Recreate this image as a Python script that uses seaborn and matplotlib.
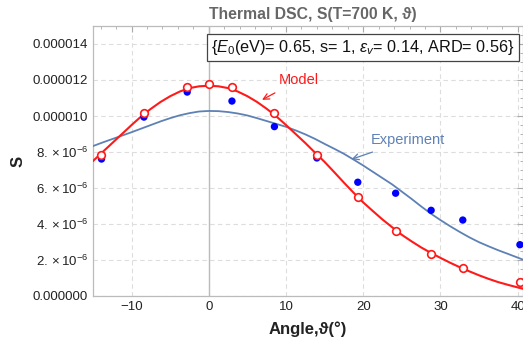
import numpy as np
import pandas as pd
import matplotlib
matplotlib.use("Agg")
import matplotlib.pyplot as plt
import seaborn as sns
from matplotlib.ticker import MultipleLocator

# ---- data (values in units of 1e-6) ----
angles_pts = [-13.9, -8.4, -2.8, 3.0, 8.5, 14.0, 19.3, 24.2, 28.8, 32.9, 40.3]
exp_pts = [7.61, 9.94, 11.33, 10.83, 9.41, 7.67, 6.32, 5.71, 4.76, 4.22, 2.85]
model_angles = [-13.9, -8.4, -2.8, 0.0, 3.0, 8.5, 14.0, 19.3, 24.2, 28.8, 32.9, 40.3]
model_pts = [7.85, 10.15, 11.59, 11.78, 11.59, 10.15, 7.85, 5.5, 3.61, 2.35, 1.56, 0.79]

curve_x = [-15, -13.75, -12.5, -11.25, -10, -8.75, -7.5, -6.25, -5, -3.75, -2.5, -1.25, 0,
           1.25, 2.5, 3.75, 5, 6.25, 7.5, 8.75, 10, 11.25, 12.5, 13.75, 15, 16.25, 17.5,
           18.75, 20, 21.25, 22.5, 23.75, 25, 26.25, 27.5, 28.75, 30, 31.25, 32.5, 33.75,
           35, 36.25, 37.5, 38.75, 40.7]
model_curve = [7.5, 8.0, 8.5, 9.0, 9.5, 9.98, 10.4, 10.78, 11.1, 11.36, 11.55, 11.65, 11.68,
               11.65, 11.55, 11.36, 11.1, 10.78, 10.4, 9.98, 9.5, 9.0, 8.5, 7.97, 7.45, 6.88, 6.3,
               5.74, 5.2, 4.72, 4.25, 3.82, 3.4, 3.04, 2.7, 2.4, 2.12, 1.85, 1.6, 1.37,
               1.15, 0.95, 0.77, 0.62, 0.4]
exp_curve = [8.33, 8.53, 8.72, 8.91, 9.1, 9.3, 9.5, 9.7, 9.88, 10.04, 10.16, 10.25, 10.28,
             10.27, 10.22, 10.14, 10.03, 9.88, 9.72, 9.56, 9.4, 9.2, 8.98, 8.73, 8.45, 8.18, 7.9,
             7.58, 7.25, 6.9, 6.55, 6.2, 5.8, 5.4, 4.98, 4.58, 4.22, 3.88, 3.56, 3.26,
             2.99, 2.76, 2.54, 2.34, 2.02]

ytick_vals = [0, 2, 4, 6, 8, 10, 12, 14]
ytick_labels = ["0.000000", r"$2.\times10^{-6}$", r"$4.\times10^{-6}$", r"$6.\times10^{-6}$",
                r"$8.\times10^{-6}$", "0.000010", "0.000012", "0.000014"]
xtick_vals = [-10, 0, 10, 20, 30, 40]

sns.set_theme(style="white")
plt.rcParams['font.family'] = ['Liberation Sans', 'DejaVu Sans']
plt.rcParams['mathtext.fontset'] = 'custom'
plt.rcParams['mathtext.rm'] = 'Liberation Sans'
plt.rcParams['mathtext.it'] = 'Liberation Sans:italic'
plt.rcParams['mathtext.bf'] = 'Liberation Sans:bold'

fig = plt.figure(figsize=(5.23, 3.41), dpi=100)
ax = fig.add_axes([93/523, 1-296/341, 1-93/523, (296-26)/341])

RED = "#FF1A1A"
BLUE_LINE = "#5E81B5"
BLUE_PT = "#0000FF"

df_mc = pd.DataFrame({"x": curve_x, "y": [v*1e-6 for v in model_curve]})
df_ec = pd.DataFrame({"x": curve_x, "y": [v*1e-6 for v in exp_curve]})
sns.lineplot(data=df_ec, x="x", y="y", ax=ax, color=BLUE_LINE, lw=1.3, zorder=3)
sns.lineplot(data=df_mc, x="x", y="y", ax=ax, color=RED, lw=1.5, zorder=3)

df_ep = pd.DataFrame({"x": angles_pts, "y": [v*1e-6 for v in exp_pts]})
df_mp = pd.DataFrame({"x": model_angles, "y": [v*1e-6 for v in model_pts]})
sns.scatterplot(data=df_ep, x="x", y="y", ax=ax, color=BLUE_PT, s=28, edgecolor="none", zorder=4)
ax.plot(df_mp["x"], df_mp["y"], 'o', mfc="white", mec=RED, mew=1.2, ms=5.5, zorder=5)

ax.set_xlim(-15, 40.7)
ax.set_ylim(0, 15e-6)
ax.axvline(0, color="#BBBBBB", lw=1.0, zorder=1)

ax.set_yticks([v*1e-6 for v in ytick_vals])
ax.set_yticklabels(ytick_labels)
ax.set_xticks(xtick_vals)
ax.set_xticklabels([("\u2212%d" % -v) if v < 0 else str(v) for v in xtick_vals])
ax.xaxis.set_minor_locator(MultipleLocator(2))
ax.yaxis.set_minor_locator(MultipleLocator(0.5e-6))
ax.tick_params(which='both', direction='in', top=True, right=True, colors="#AAAAAA",
               labelcolor="#222222", labelsize=9.5)
ax.tick_params(which='major', length=4, width=0.8)
ax.tick_params(which='minor', length=2, width=0.6)
ax.grid(True, which='major', ls=(0, (4, 3)), color="#DDDDDD", lw=0.8)
for s in ax.spines.values():
    s.set_color("#BBBBBB")
    s.set_linewidth(0.9)

ax.set_xlabel("Angle,\u03d1(\u00b0)", fontsize=12, fontweight="bold", color="#222222", labelpad=6)
ax.set_ylabel("S", fontsize=12, fontweight="bold", color="#222222")
ax.yaxis.set_label_coords((26-93)/430, 0.5)
fig.text(313/523, 1-14/341, "Thermal DSC, S(T=700 K, \u03d1)", ha="center", va="center",
         fontsize=11.3, fontweight="bold", color="#666666")

ax.annotate(r"{$E_0$(eV)= 0.65, s= 1, $\epsilon_v$= 0.14, ARD= 0.56}",
            xy=(363/523, 1-47.5/341), xycoords='figure fraction', ha="center", va="center",
            fontsize=11.7, color="#111111",
            bbox=dict(boxstyle="square,pad=0.25", fc="white", ec="#444444", lw=0.9), zorder=10)

ax.annotate("Model", xy=(6.9, 10.9e-6), xycoords='data', xytext=(299/523, 1-80/341),
            textcoords='figure fraction', color=RED, fontsize=10.5, ha="center", va="center",
            arrowprops=dict(arrowstyle="->", color=RED, lw=0.9, shrinkA=4, shrinkB=0))
ax.annotate("Experiment", xy=(18.5, 7.6e-6), xycoords='data', xytext=(408/523, 1-140/341),
            textcoords='figure fraction', color=BLUE_LINE, fontsize=10.5, ha="center", va="center",
            arrowprops=dict(arrowstyle="->", color=BLUE_LINE, lw=0.9, shrinkA=4, shrinkB=0))

fig.savefig("out.png", dpi=100)
